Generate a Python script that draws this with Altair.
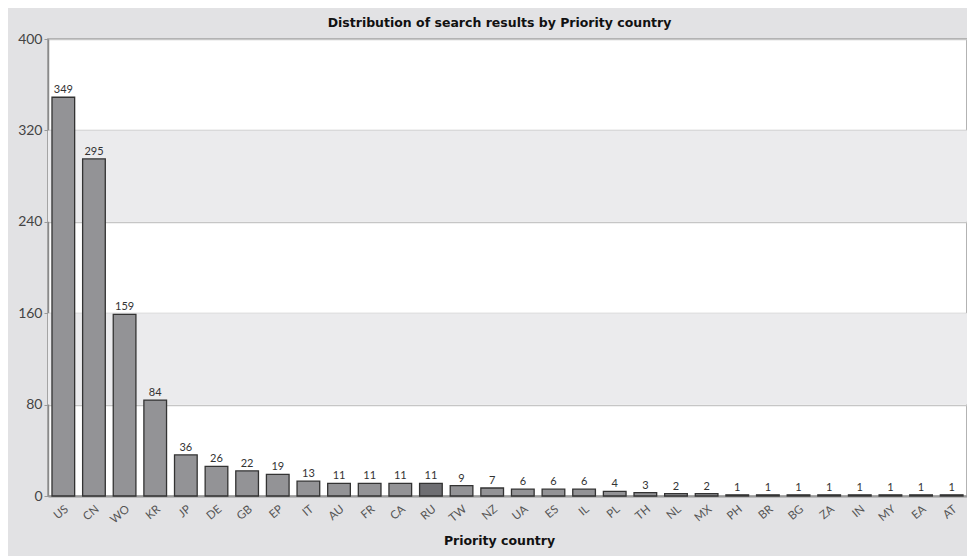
import altair as alt
import pandas as pd

countries = ["US", "CN", "WO", "KR", "JP", "DE", "GB", "EP", "IT", "AU", "FR", "CA", "RU", "TW", "NZ",
             "UA", "ES", "IL", "PL", "TH", "NL", "MX", "PH", "BR", "BG", "ZA", "IN", "MY", "EA", "AT"]
counts = [349, 295, 159, 84, 36, 26, 22, 19, 13, 11, 11, 11, 11, 9, 7,
          6, 6, 6, 4, 3, 2, 2, 1, 1, 1, 1, 1, 1, 1, 1]
y_ticks = [0, 80, 160, 240, 320, 400]

df = pd.DataFrame({"country": countries, "count": counts})
bands = pd.DataFrame({
    "start": [y_ticks[i] for i in range(1, len(y_ticks) - 1, 2)],
    "end": [y_ticks[i + 1] for i in range(1, len(y_ticks) - 1, 2)],
})

W, H = 919, 457
FONT = "Lato"
TFONT = "DejaVu Sans"

band_layer = alt.Chart(bands).mark_rect(color="#ebebed").encode(
    x=alt.value(0), x2=alt.value(W),
    y=alt.Y("start:Q", scale=alt.Scale(domain=[0, 400])),
    y2="end:Q",
)

x_enc = alt.X("country:N", sort=countries,
              scale=alt.Scale(paddingInner=0.26, paddingOuter=0.13),
              axis=alt.Axis(title="Priority country", labelAngle=-40, labelFontSize=11.5,
                            labelColor="#555555", labelFont=FONT, ticks=False, labelPadding=7,
                            domainColor="#9a9a9a", domainWidth=2,
                            titleFont=TFONT, titleFontSize=12.5, titleFontWeight="bold",
                            titleColor="#111111", titleX=451, titleY=38))

y_enc = alt.Y("count:Q", scale=alt.Scale(domain=[0, 400]),
              axis=alt.Axis(title=None, values=y_ticks, labelFontSize=14, labelColor="#444444",
                            labelFont=FONT, tickSize=4, tickColor="#9a9a9a", labelPadding=2,
                            domainColor="#8a8a8a", domainWidth=1.5,
                            grid=True, gridColor="#c6c6c6", gridWidth=1.5))

bars = alt.Chart(df).mark_bar(stroke="#333333", strokeWidth=1.3).encode(
    x=x_enc, y=y_enc,
    color=alt.condition(alt.datum.country == "RU", alt.value("#6e6e72"), alt.value("#939396")),
)

labels = alt.Chart(df).mark_text(dy=-7, fontSize=11, color="#333333", font=FONT).encode(
    x=alt.X("country:N", sort=countries), y="count:Q", text="count:Q"
)

chart = alt.layer(band_layer, bars, labels).properties(
    width=W, height=H,
    title=alt.TitleParams("Distribution of search results by Priority country", fontSize=12.5,
                          font=TFONT, fontWeight="bold", color="#111111", offset=3, dx=-8),
    autosize=alt.AutoSizeParams(type="none"),
    padding={"left": 40, "top": 31, "right": 0, "bottom": 60},
    background="#e2e2e4",
).configure_view(fill="white", stroke="#9a9a9a", strokeWidth=1.5)

chart.save("out.html", embed_options={"renderer": "svg", "actions": False})
